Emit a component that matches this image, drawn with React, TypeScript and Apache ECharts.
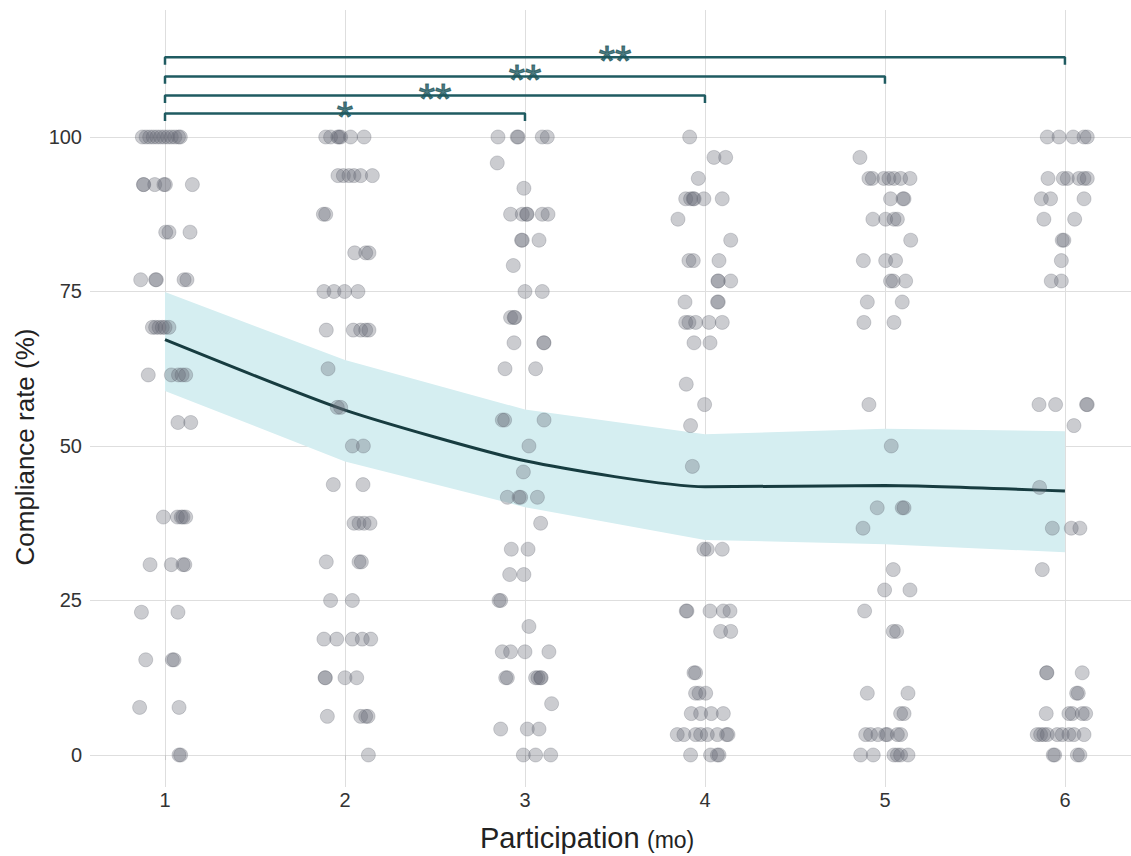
import React, { useEffect, useRef } from "react";
import * as echarts from "echarts";

const X_GROUPS = [1, 2, 3, 4, 5, 6];
const X_TICK_LABELS = ["1", "2", "3", "4", "5", "6"];
const Y_TICKS = [0, 25, 50, 75, 100];

// fitted mean and confidence band
const MEAN = [67.2, 55.8, 47.6, 43.4, 43.6, 42.7];
const UPPER = [74.9, 63.9, 55.9, 51.9, 52.8, 52.4];
const LOWER = [58.9, 47.5, 40.1, 34.8, 34.1, 32.8];

// significance brackets (from month 1 to end month)
const BRACKET_ENDS = [3, 4, 5, 6];
const BRACKET_Y = [103.8, 106.7, 109.8, 112.9];
const BRACKET_LABELS = ["*", "**", "**", "**"];
const BRACKET_DROP = 1.2;

// raw observations: each row = [value, jitter offsets...]
const GROUP1_ROWS: number[][] = [
  [100, -0.126, -0.105, -0.085, -0.065, -0.045, -0.025, -0.005, 0.015, 0.035, 0.055, 0.075, 0.085],
  [92.3, -0.12, -0.118, -0.057, -0.006, 0.002, 0.152],
  [84.6, 0.004, 0.022, 0.139],
  [76.9, -0.135, -0.052, -0.048, 0.106, 0.122],
  [69.2, -0.07, -0.052, -0.033, -0.015, 0.0, 0.022],
  [61.5, -0.093, 0.035, 0.075, 0.095, 0.115],
  [53.8, 0.072, 0.143],
  [38.5, -0.009, 0.069, 0.09, 0.1, 0.115],
  [30.8, -0.083, 0.035, 0.1, 0.11],
  [23.1, -0.131, 0.072],
  [15.4, -0.107, 0.041, 0.05],
  [7.7, -0.141, 0.078],
  [0, 0.078, 0.087],
];
const GROUP2_ROWS: number[][] = [
  [100, -0.107, -0.08, -0.04, -0.033, -0.024, 0.031, 0.106],
  [93.75, -0.039, -0.009, 0.022, 0.05, 0.087, 0.152],
  [87.5, -0.12, -0.107],
  [81.25, 0.054, 0.115, 0.133],
  [75, -0.117, -0.061, -0.002, 0.072],
  [68.75, -0.104, 0.046, 0.087, 0.115, 0.133],
  [62.5, -0.094],
  [56.25, -0.043, -0.024],
  [50, 0.041, 0.102],
  [43.75, -0.065, 0.1],
  [37.5, 0.05, 0.078, 0.106, 0.139],
  [31.25, -0.104, 0.078, 0.091],
  [25, -0.08, 0.041],
  [18.75, -0.117, -0.046, 0.041, 0.096, 0.143],
  [12.5, -0.111, -0.109, 0.0, 0.065],
  [6.25, -0.098, 0.087, 0.115, 0.128],
  [0, 0.13],
];
const GROUP3_ROWS: number[][] = [
  [100, -0.15, -0.043, -0.038, 0.096, 0.124],
  [95.8, -0.154],
  [91.7, -0.006],
  [87.5, -0.08, -0.015, 0.009, 0.012, 0.096, 0.128],
  [83.3, -0.019, -0.015, 0.078],
  [79.2, -0.065],
  [75, 0.0, 0.096],
  [70.8, -0.08, -0.057, -0.06],
  [66.7, -0.061, 0.106, 0.104],
  [62.5, -0.111, 0.059],
  [54.2, -0.126, -0.113, 0.106],
  [50, 0.022],
  [45.8, -0.009],
  [41.7, -0.098, -0.033, -0.024, 0.069],
  [37.5, 0.087],
  [33.3, -0.076, 0.017],
  [29.2, -0.085, -0.006],
  [25, -0.144, -0.135],
  [20.8, 0.022],
  [16.7, -0.126, -0.08, 0.0, 0.133],
  [12.5, -0.107, -0.098, 0.059, 0.072, 0.087, 0.09],
  [8.3, 0.148],
  [4.2, -0.135, 0.013, 0.078],
  [0, -0.009, 0.059, 0.143],
];
const GROUP4_ROWS: number[][] = [
  [100, -0.085],
  [96.7, 0.05, 0.115],
  [93.3, -0.037],
  [90, -0.107, -0.08, -0.065, -0.06, -0.006, 0.096],
  [86.7, -0.15],
  [83.3, 0.143],
  [80, -0.089, -0.065, 0.078],
  [76.7, 0.072, 0.074, 0.143],
  [73.3, -0.111, 0.074, 0.07],
  [70, -0.107, -0.089, -0.052, 0.022, 0.096],
  [66.7, -0.061, 0.028],
  [60, -0.104],
  [56.7, -0.002],
  [53.3, -0.08],
  [46.7, -0.07],
  [33.3, -0.006, 0.013, 0.096],
  [23.3, -0.104, -0.1, 0.028, 0.102, 0.139],
  [20, 0.087, 0.143],
  [13.3, -0.061, -0.052],
  [10, -0.052, -0.033, 0.004],
  [6.7, -0.076, -0.024, 0.035, 0.102],
  [3.3, -0.154, -0.117, -0.052, -0.024, 0.013, 0.069, 0.12, 0.128],
  [0, -0.08, 0.031, 0.069, 0.078],
];
const GROUP5_ROWS: number[][] = [
  [96.7, -0.139],
  [93.3, -0.089, -0.07, -0.006, 0.022, 0.05, 0.087, 0.139],
  [90, 0.031, 0.106, 0.1],
  [86.7, -0.067, 0.004, 0.05, 0.069],
  [83.3, 0.143],
  [80, -0.12, 0.004, 0.059],
  [76.7, 0.031, 0.046, 0.115],
  [73.3, -0.098, 0.096],
  [70, -0.117, 0.05],
  [56.7, -0.089],
  [50, 0.035],
  [40, -0.043, 0.096, 0.106],
  [36.7, -0.122],
  [30, 0.046],
  [26.7, -0.002, 0.139],
  [23.3, -0.113],
  [20, 0.046, 0.065],
  [10, -0.098, 0.128],
  [6.7, 0.087, 0.106],
  [3.3, -0.107, -0.08, -0.039, 0.004, 0.013, 0.069, 0.087],
  [0, -0.135, -0.065, 0.05, 0.069, 0.087, 0.128],
];
const GROUP6_ROWS: number[][] = [
  [100, -0.098, -0.033, 0.046, 0.106, 0.124],
  [93.3, -0.094, -0.009, 0.013, 0.078, 0.106, 0.124],
  [90, -0.131, -0.08, 0.106],
  [86.7, -0.117, 0.054],
  [83.3, -0.015, -0.006],
  [80, -0.02],
  [76.7, -0.076, -0.02],
  [56.7, -0.144, -0.052, 0.124, 0.12],
  [53.3, 0.05],
  [43.3, -0.141],
  [36.7, -0.07, 0.035, 0.083],
  [30, -0.126],
  [13.3, -0.102, -0.1, 0.096],
  [10, 0.065, 0.074],
  [6.7, -0.104, 0.022, 0.041, 0.096, 0.115],
  [3.3, -0.154, -0.135, -0.117, -0.098, -0.043, -0.015, 0.022, 0.05, 0.106],
  [0, -0.065, -0.057, 0.069, 0.083],
];
const ALL_GROUPS = [GROUP1_ROWS, GROUP2_ROWS, GROUP3_ROWS, GROUP4_ROWS, GROUP5_ROWS, GROUP6_ROWS];

const FONT = "'Liberation Sans', Arial, Helvetica, sans-serif";

export default function App() {
  const ref = useRef<HTMLDivElement>(null);

  useEffect(() => {
    if (!ref.current) return;
    const chart = echarts.init(ref.current, null, { renderer: "svg" });

    const points: number[][] = [];
    ALL_GROUPS.forEach((rows, gi) => {
      rows.forEach((row) => {
        const y = row[0];
        for (let k = 1; k < row.length; k++) points.push([X_GROUPS[gi] + row[k], y]);
      });
    });

    const bracketSeries = BRACKET_ENDS.map((end, i) => ({
      type: "line",
      silent: true,
      symbol: "none",
      z: 3,
      lineStyle: { color: "#1f5b61", width: 2.5 },
      data: [
        [X_GROUPS[0], BRACKET_Y[i] - BRACKET_DROP],
        [X_GROUPS[0], BRACKET_Y[i]],
        [end, BRACKET_Y[i]],
        [end, BRACKET_Y[i] - BRACKET_DROP],
      ],
    }));

    const option: any = {
      animation: false,
      grid: { left: 90, right: 0, top: 10, bottom: 69 },
      xAxis: {
        type: "value",
        min: 0.5833,
        max: 6.367,
        axisLine: { show: false },
        axisTick: { show: true, customValues: X_GROUPS, length: 5, lineStyle: { color: "#c8c8c8" } },
        axisLabel: {
          customValues: X_GROUPS,
          formatter: (v: number) => X_TICK_LABELS[X_GROUPS.indexOf(Math.round(v))] ?? "",
          fontSize: 20,
          color: "#333",
          fontFamily: FONT,
          margin: 3,
        },
        splitLine: { show: true, lineStyle: { color: "#dedede", width: 1 } },
      },
      yAxis: {
        type: "value",
        min: -5.18,
        max: 120.55,
        axisLine: { show: false },
        axisTick: { show: false, customValues: Y_TICKS },
        axisLabel: { customValues: Y_TICKS, fontSize: 20, color: "#333", fontFamily: FONT, margin: 8 },
        splitLine: { show: true, lineStyle: { color: "#dedede", width: 1 } },
      },
      series: [
        {
          type: "custom",
          silent: true,
          z: 1,
          data: [0],
          renderItem: (params: any, api: any) => {
            const pts: number[][] = [];
            for (let i = 0; i < X_GROUPS.length; i++) pts.push(api.coord([X_GROUPS[i], UPPER[i]]));
            for (let i = X_GROUPS.length - 1; i >= 0; i--) pts.push(api.coord([X_GROUPS[i], LOWER[i]]));
            return { type: "polygon", shape: { points: pts }, style: { fill: "#d5eef1" } };
          },
        },
        {
          type: "line",
          silent: true,
          symbol: "none",
          smooth: 0.2,
          z: 2,
          lineStyle: { color: "#173c40", width: 3 },
          data: X_GROUPS.map((x, i) => [x, MEAN[i]]),
        },
        ...bracketSeries,
        {
          type: "scatter",
          silent: true,
          symbolSize: 0,
          z: 4,
          data: BRACKET_ENDS.map((end, i) => ({
            value: [(X_GROUPS[0] + end) / 2, BRACKET_Y[i]],
            label: { formatter: BRACKET_LABELS[i] },
          })),
          label: {
            show: true,
            position: "inside",
            offset: [0, 3],
            fontSize: 42,
            color: "#1d575d",
            textBorderColor: "#1d575d",
            textBorderWidth: 1,
            fontFamily: FONT,
          },
        },
        {
          type: "scatter",
          silent: true,
          z: 5,
          symbolSize: 14,
          itemStyle: {
            color: "rgba(100,105,115,0.42)",
            borderColor: "rgba(80,85,95,0.3)",
            borderWidth: 1,
          },
          data: points,
        },
      ],
      graphic: [
        {
          type: "text",
          x: 25,
          y: 447,
          rotation: Math.PI / 2,
          style: {
            text: "Compliance rate (%)",
            fontSize: 26,
            fontFamily: FONT,
            fill: "#222",
            align: "center",
            verticalAlign: "middle",
          },
        },
        {
          type: "text",
          x: 480,
          y: 852,
          style: {
            text: "Participation",
            fontSize: 29,
            fontFamily: FONT,
            fill: "#222",
            align: "left",
            verticalAlign: "bottom",
          },
        },
        {
          type: "text",
          x: 647,
          y: 851,
          style: {
            text: "(mo)",
            fontSize: 23,
            fontFamily: FONT,
            fill: "#222",
            align: "left",
            verticalAlign: "bottom",
          },
        },
      ],
    };

    chart.setOption(option);
    return () => chart.dispose();
  }, []);

  return (
    <div
      ref={ref}
      style={{ position: "absolute", left: 0, top: 0, width: 1131, height: 856, background: "#fff" }}
    />
  );
}
